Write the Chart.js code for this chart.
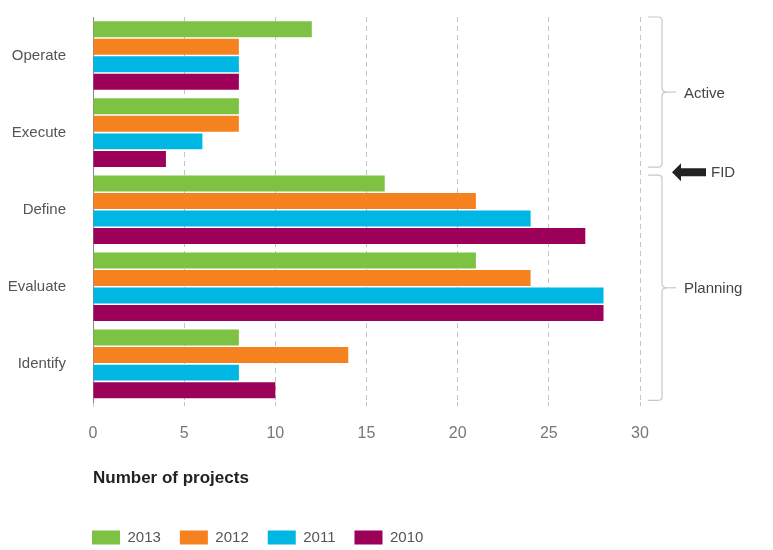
<!DOCTYPE html>
<html>
<head>
<meta charset="utf-8">
<script src="https://cdn.jsdelivr.net/npm/chart.js@4"></script>
<style>
  html, body { margin: 0; padding: 0; background: #fff; }
  #wrap { width: 773px; height: 550px; }
</style>
</head>
<body>
<div id="wrap"><canvas id="projectsChart" width="773" height="550"></canvas></div>
<script>
// stages (top to bottom) and project counts per year
const stages = ['Operate', 'Execute', 'Define', 'Evaluate', 'Identify'];
const years = ['2013', '2012', '2011', '2010'];
const values2013 = [12, 8, 16, 21, 8];
const values2012 = [8, 8, 21, 24, 14];
const values2011 = [8, 6, 24, 28, 8];
const values2010 = [8, 4, 27, 28, 10];
const xTicks = [0, 5, 10, 15, 20, 25, 30];
const colors = ['#7dc242', '#f6821f', '#00b6e3', '#9c0059'];

const FONT = "'Liberation Sans', Arial, sans-serif";

// braces on the right: Active (Operate..Execute), Planning (Define..Identify), FID arrow between
const bracesPlugin = {
    id: 'braces',
    afterLayout(chart) {
        // move legend so the first swatch lines up with the axis
        if (chart.legend) chart.legend.left = 73;
    },
    afterDraw(chart) {
        const ctx = chart.ctx;
        const area = chart.chartArea;
        const y = chart.scales.y;
        const split = (y.getPixelForValue(1) + y.getPixelForValue(2)) / 2;
        const xs = 648, xv = 662, xt = 667;

        function brace(top, bottom) {
            const mid = (top + bottom) / 2;
            const r = 4;
            ctx.beginPath();
            ctx.moveTo(xs, top);
            ctx.lineTo(xv - r, top);
            ctx.quadraticCurveTo(xv, top, xv, top + r);
            ctx.lineTo(xv, mid - r);
            ctx.quadraticCurveTo(xv, mid, xt, mid);
            ctx.quadraticCurveTo(xv, mid, xv, mid + r);
            ctx.lineTo(xv, bottom - r);
            ctx.quadraticCurveTo(xv, bottom, xv - r, bottom);
            ctx.lineTo(xs, bottom);
            ctx.stroke();
            ctx.beginPath();
            ctx.moveTo(xt, mid);
            ctx.lineTo(xt + 9, mid);
            ctx.stroke();
            return mid;
        }

        ctx.save();
        ctx.strokeStyle = '#c8c8c8';
        ctx.lineWidth = 1.2;
        const m1 = brace(area.top, split - 4);
        const m2 = brace(split + 4, area.bottom - 2);

        ctx.fillStyle = '#444';
        ctx.font = '15px ' + FONT;
        ctx.textBaseline = 'middle';
        ctx.textAlign = 'left';
        ctx.fillText('Active', 684, m1 + 2);
        ctx.fillText('Planning', 684, m2 + 1);
        ctx.fillText('FID', 711, split + 2);

        // arrow pointing left
        ctx.fillStyle = '#222';
        ctx.beginPath();
        ctx.moveTo(672, split + 1);
        ctx.lineTo(681, split - 8);
        ctx.lineTo(681, split - 3);
        ctx.lineTo(706, split - 3);
        ctx.lineTo(706, split + 5);
        ctx.lineTo(681, split + 5);
        ctx.lineTo(681, split + 10);
        ctx.closePath();
        ctx.fill();
        ctx.restore();
    }
};

const seriesValues = [values2013, values2012, values2011, values2010];

new Chart(document.getElementById('projectsChart'), {
    type: 'bar',
    data: {
        labels: stages,
        datasets: years.map((yr, i) => ({
            label: yr,
            data: seriesValues[i],
            backgroundColor: colors[i],
            borderWidth: 0,
            categoryPercentage: 0.91,
            barPercentage: 0.91
        }))
    },
    options: {
        indexAxis: 'y',
        responsive: false,
        animation: false,
        layout: { padding: { top: 17, right: 133, bottom: -5, left: 0 } },
        scales: {
            x: {
                min: 0,
                max: 30,
                afterBuildTicks(scale) {
                    scale.ticks = xTicks.map(v => ({ value: v }));
                },
                grid: {
                    color: '#c4c4c4',
                    lineWidth: 1,
                    drawTicks: true,
                    tickLength: 4,
                    tickColor: '#c4c4c4'
                },
                border: { display: false, dash: [5, 4] },
                ticks: {
                    color: '#777',
                    font: { family: FONT, size: 16 },
                    padding: 18
                },
                title: {
                    display: true,
                    text: 'Number of projects',
                    align: 'start',
                    color: '#222',
                    font: { family: FONT, size: 17, weight: 'bold' },
                    padding: { top: 7, bottom: 22 }
                }
            },
            y: {
                afterFit(scale) {
                    scale.width = 93;
                    scale.paddingTop = 0;
                    scale.paddingBottom = 0;
                },
                grid: { display: false, drawTicks: false },
                border: { display: true, color: '#888', width: 1 },
                ticks: {
                    color: '#555',
                    font: { family: FONT, size: 15 },
                    padding: 27
                }
            }
        },
        plugins: {
            legend: {
                position: 'bottom',
                align: 'start',
                labels: {
                    boxWidth: 28,
                    boxHeight: 14,
                    color: '#555',
                    font: { family: FONT, size: 15 },
                    padding: 19
                }
            },
            tooltip: { enabled: false }
        }
    },
    plugins: [bracesPlugin]
});
</script>
</body>
</html>
